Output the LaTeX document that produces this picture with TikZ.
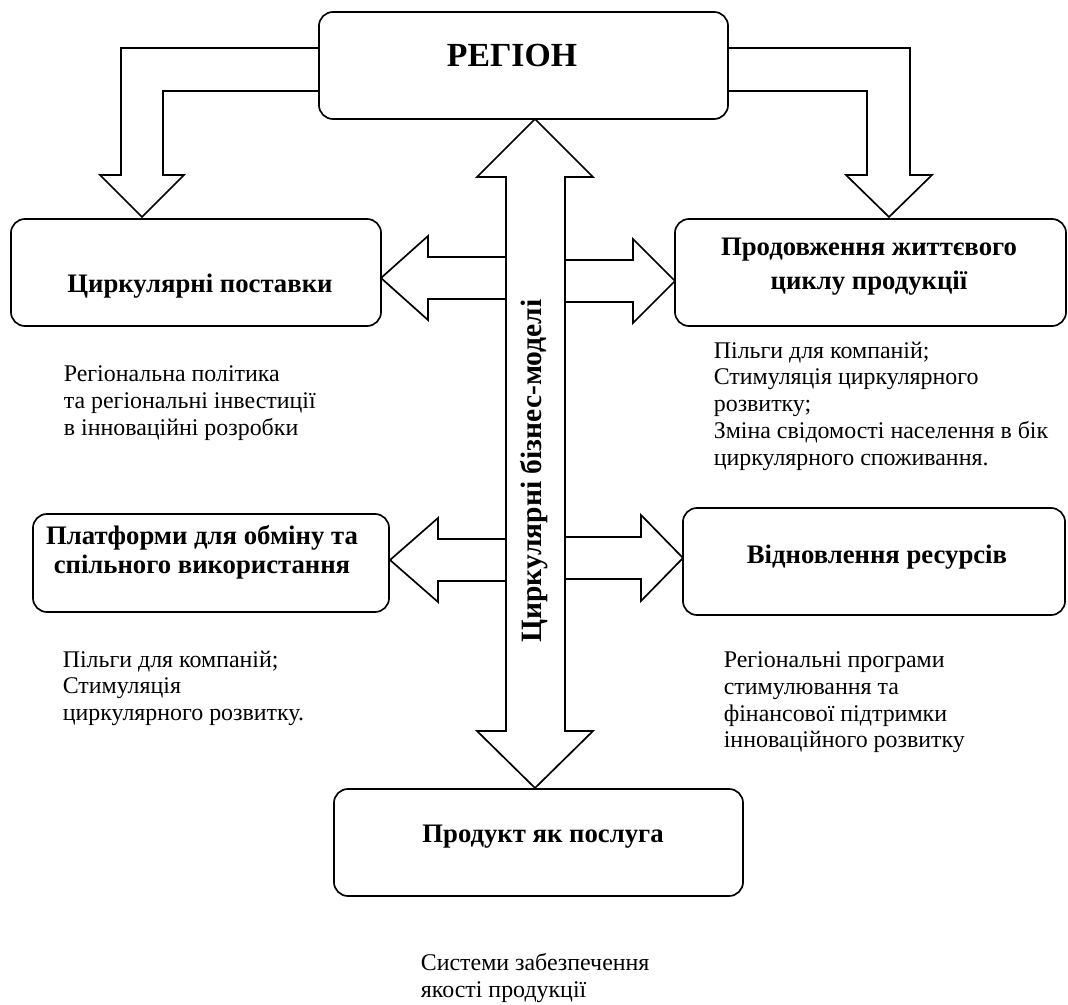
\documentclass[tikz,border=0pt]{standalone}
\usepackage{fontspec}
\setmainfont{Liberation Serif}

\begin{document}
\begin{tikzpicture}[x=0.025cm, y=-0.025cm, line width=1.2pt,
    box/.style={draw, rounded corners=10pt, inner sep=0pt},
    head/.style={font=\bfseries\fontsize{19}{24}\selectfont, align=center, inner sep=0pt},
    note/.style={font=\fontsize{17}{19}\selectfont, align=left, anchor=north west, inner sep=0pt}]
      \useasboundingbox (0, 0) rectangle (1068, 1005);

      % boxes
       \node[box, minimum width=10.225cm, minimum height=2.675cm] (reg) at (523.5, 65.5) {};
       \node[box, minimum width=9.25cm, minimum height=2.675cm] (sup) at (196, 272.5) {};
       \node[box, minimum width=9.775cm, minimum height=2.675cm] (life) at (870.5, 272.5) {};
       \node[box, minimum width=8.9cm, minimum height=2.45cm] (share) at (211, 563) {};
       \node[box, minimum width=9.55cm, minimum height=2.675cm] (res) at (874, 561.5) {};
       \node[box, minimum width=10.225cm, minimum height=2.675cm] (serv) at (538.5, 842.5) {};

       \node[head, anchor=base, font=\bfseries\fontsize{24}{26}\selectfont] (regT) at (512, 67) {РЕГІОН};
       \node[head, anchor=base] (supT) at (200, 292) {Циркулярні поставки};
       \node[head] (lifeT) at (869, 267) {Продовження життєвого\\циклу продукції};
       \node[head, font=\bfseries\fontsize{19}{20.5}\selectfont] (shareT) at (202, 552) {Платформи для обміну та\\спільного використання};
       \node[head, anchor=base] (resT) at (877, 563) {Відновлення ресурсів};
       \node[head, anchor=base] (servT) at (543, 842) {Продукт як послуга};

      % arrows from the region
       \draw [-] (319, 48) -- (121, 48) -- (121, 175) -- (100, 175) -- (142, 217)
                 -- (184, 175) -- (163, 175) -- (163, 91) -- (319, 91);
       \draw [-] (728, 48) -- (910, 48) -- (910, 175) -- (932, 175) -- (889, 217)
                 -- (846, 175) -- (867, 175) -- (867, 91) -- (728, 91);

      % business models
       \draw [-] (535, 119) -- (593, 177) -- (565, 177) -- (565, 731) -- (593, 731)
                 -- (535, 788) -- (477, 731) -- (506, 731) -- (506, 177) -- (477, 177) -- cycle;
       \node[head, rotate=90, anchor=base, font=\bfseries\fontsize{21}{24}\selectfont] (bm) at (541, 471) {Циркулярні бізнес-моделі};

       \draw [-] (506, 257) -- (428, 257) -- (428, 236) -- (381, 278) -- (428, 320) -- (428, 299) -- (506, 299);
       \draw [-] (565, 260) -- (633, 260) -- (633, 239) -- (675, 281) -- (633, 323) -- (633, 302) -- (565, 302);
       \draw [-] (506, 539) -- (438, 539) -- (438, 518) -- (390, 560) -- (438, 602) -- (438, 581) -- (506, 581);
       \draw [-] (565, 537) -- (641, 537) -- (641, 515) -- (683, 558) -- (641, 601) -- (641, 579) -- (565, 579);

      % notes
       \node[note] (n1) at (63, 365) {Регіональна політика\\та регіональні інвестиції\\в інноваційні розробки};
       \node[note] (n2) at (713, 341) {Пільги для компаній;\\Стимуляція циркулярного\\розвитку;\\Зміна свідомості населення в бік\\циркулярного споживання.};
       \node[note] (n3) at (62, 650) {Пільги для компаній;\\Стимуляція\\циркулярного розвитку.};
       \node[note] (n4) at (723, 651) {Регіональні програми\\стимулювання та\\фінансової підтримки\\інноваційного розвитку};
       \node[note] (n5) at (420, 953) {Системи забезпечення\\якості продукції};
    \end{tikzpicture}
\end{document}
